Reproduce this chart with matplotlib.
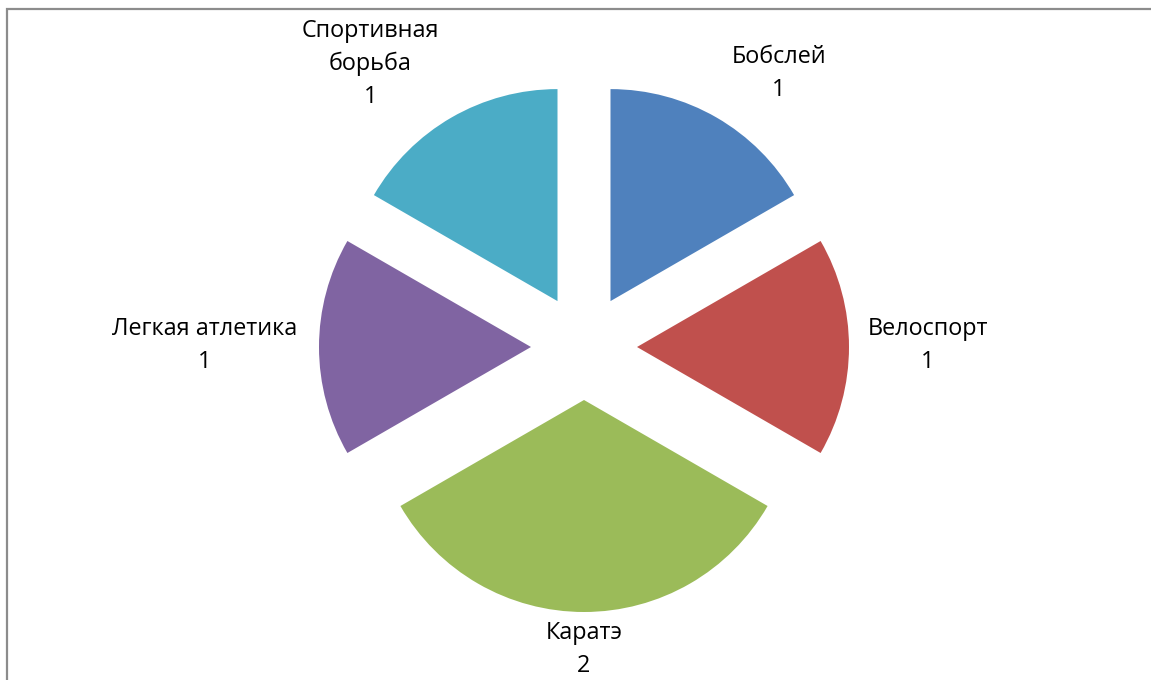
import matplotlib.pyplot as plt
from matplotlib.patches import Rectangle

plt.rcParams['font.family'] = ['Open Sans', 'DejaVu Sans']

sports = ["Бобслей", "Велоспорт", "Каратэ", "Легкая атлетика", "Спортивная\nборьба"]
counts = [1, 1, 2, 1, 1]
colors = ["#4F81BD", "#C0504D", "#9BBB59", "#8064A2", "#4BACC6"]

# label centres (in pie radius units, pie centre at 0,0)
label_xy = [(0.92, 1.29), (1.623, 0.005), (0.0, -1.425), (-1.788, 0.005), (-1.009, 1.335)]

W, H = 1151, 680
cx, cy, R = 584, 347, 212  # pixel centre / radius of the pie

fig = plt.figure(figsize=(W / 100, H / 100), dpi=100)
ax = fig.add_axes([0, 0, 1, 1])

ax.pie(counts, colors=colors, startangle=90, counterclock=False,
       explode=[0.25] * len(counts), radius=1.0,
       wedgeprops=dict(linewidth=0))

for name, val, (x, y) in zip(sports, counts, label_xy):
    ax.text(x, y, f"{name}\n{val}", ha="center", va="center",
            fontsize=16.8, color="black", linespacing=1.5)

ax.set_xlim(-cx / R, (W - cx) / R)
ax.set_ylim(-(H - cy) / R, cy / R)
ax.set_aspect("auto")
ax.axis("off")

# рамка диаграммы (видны только верхний и левый края)
fig.patches.append(Rectangle((7 / W, -0.1), 1.2, 1.1 - 9 / H,
                             transform=fig.transFigure, fill=False,
                             edgecolor="#8c8c8c", linewidth=1.6))

fig.savefig("out.png", dpi=100)
